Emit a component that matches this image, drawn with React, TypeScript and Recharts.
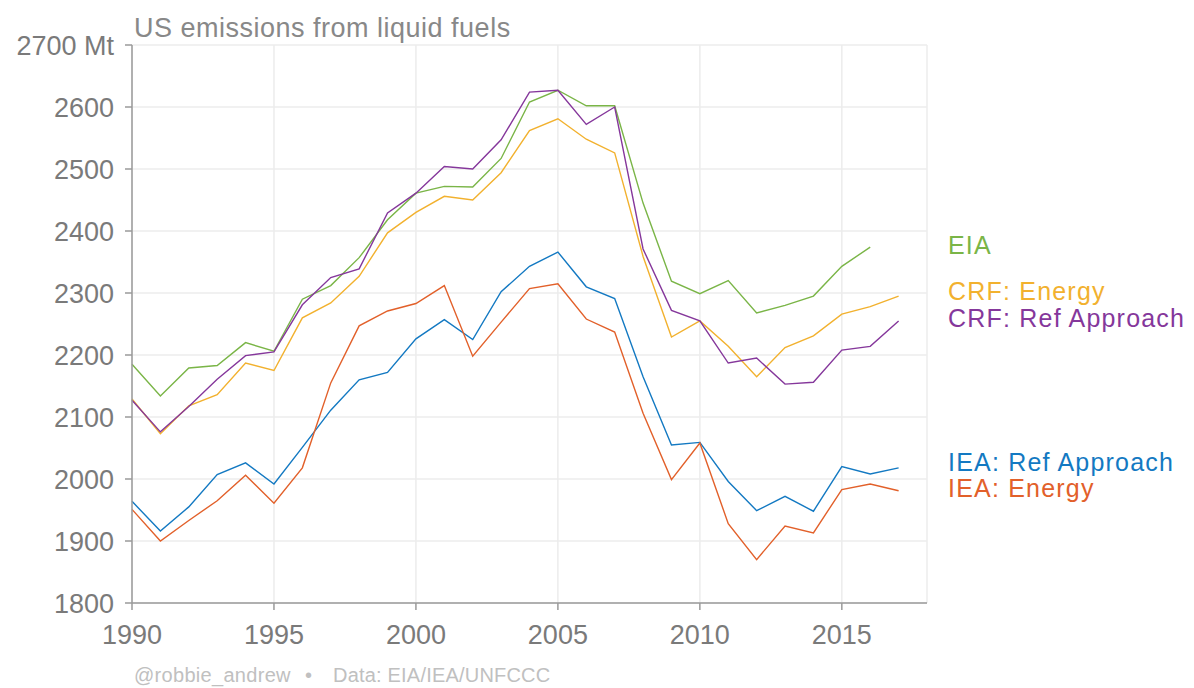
import React from 'react';
import { LineChart, Line, XAxis, YAxis, CartesianGrid } from 'recharts';

const years = [
  1990, 1991, 1992, 1993, 1994, 1995, 1996, 1997, 1998, 1999,
  2000, 2001, 2002, 2003, 2004, 2005, 2006, 2007, 2008, 2009,
  2010, 2011, 2012, 2013, 2014, 2015, 2016, 2017,
];

const eia = [
  2185, 2134, 2179, 2183, 2220, 2206, 2290, 2312, 2357, 2418,
  2461, 2472, 2471, 2517, 2608, 2627, 2602, 2602, 2445, 2319,
  2299, 2320, 2268, 2280, 2295, 2343, 2374, null,
];
const crfEnergy = [
  2129, 2073, 2118, 2136, 2187, 2175, 2260, 2284, 2327, 2397,
  2430, 2456, 2450, 2494, 2562, 2581, 2548, 2526, 2359, 2229,
  2255, 2214, 2165, 2212, 2231, 2266, 2278, 2295,
];
const crfRef = [
  2127, 2076, 2117, 2161, 2199, 2205, 2281, 2325, 2339, 2429,
  2461, 2504, 2500, 2547, 2624, 2627, 2572, 2600, 2371, 2272,
  2255, 2187, 2195, 2153, 2156, 2208, 2214, 2255,
];
const ieaRef = [
  1964, 1916, 1955, 2007, 2026, 1992, 2051, 2111, 2160, 2172,
  2226, 2257, 2225, 2302, 2343, 2366, 2310, 2291, 2165, 2055,
  2059, 1996, 1949, 1972, 1948, 2020, 2008, 2018,
];
const ieaEnergy = [
  1951, 1900, 1933, 1965, 2006, 1961, 2018, 2155, 2247, 2271,
  2283, 2312, 2198, 2253, 2307, 2315, 2258, 2237, 2106, 1999,
  2058, 1928, 1870, 1924, 1913, 1983, 1992, 1981,
];

const xTicks = [1990, 1995, 2000, 2005, 2010, 2015];
const yTicks = [1800, 1900, 2000, 2100, 2200, 2300, 2400, 2500, 2600, 2700];

const series = [
  { key: 'eia', label: 'EIA', color: '#7AB547', labelY: 254 },
  { key: 'crfEnergy', label: 'CRF: Energy', color: '#F2B12E', labelY: 300 },
  { key: 'crfRef', label: 'CRF: Ref Approach', color: '#85379B', labelY: 327 },
  { key: 'ieaRef', label: 'IEA: Ref Approach', color: '#1379C2', labelY: 471 },
  { key: 'ieaEnergy', label: 'IEA: Energy', color: '#E2602A', labelY: 497 },
];

const data = years.map((year, i) => ({
  year,
  eia: eia[i],
  crfEnergy: crfEnergy[i],
  crfRef: crfRef[i],
  ieaRef: ieaRef[i],
  ieaEnergy: ieaEnergy[i],
}));

const FONT = '"Liberation Sans", Arial, Helvetica, sans-serif';

export default function App() {
  return (
    <div style={{ position: 'absolute', left: 0, top: 0, width: 1194, height: 688, background: '#fff', fontFamily: FONT }}>
      <LineChart width={1194} height={688} data={data} margin={{ top: 45, right: 267, left: 0, bottom: 0 }}>
        <CartesianGrid stroke="#ececec" strokeWidth={1.5} />
        <XAxis
          dataKey="year"
          type="number"
          domain={[1990, 2018]}
          ticks={xTicks}
          height={85}
          stroke="#9a9a9a"
          strokeWidth={1.5}
          tickSize={7}
          tickMargin={15}
          tick={{ fill: '#7a7a7a', fontSize: 27, fontFamily: FONT }}
        />
        <YAxis
          type="number"
          domain={[1800, 2700]}
          ticks={yTicks}
          width={132}
          stroke="#9a9a9a"
          strokeWidth={1.5}
          tickSize={7}
          tickMargin={11}
          tick={{ fill: '#7a7a7a', fontSize: 27, fontFamily: FONT }}
          tickFormatter={(v) => (v === 2700 ? '2700 Mt' : String(v))}
        />
        {series.map((s) => (
          <Line
            key={s.key}
            type="linear"
            dataKey={s.key}
            stroke={s.color}
            strokeWidth={1.4}
            dot={false}
            connectNulls={false}
            isAnimationActive={false}
          />
        ))}
      </LineChart>
      <svg width={1194} height={688} style={{ position: 'absolute', left: 0, top: 0, pointerEvents: 'none' }}>
        <text x={134} y={37} fontSize={27} letterSpacing={0.5} fill="#888" fontFamily={FONT}>US emissions from liquid fuels</text>
        {series.map((s) => (
          <text key={s.key} x={948} y={s.labelY} fontSize={25} letterSpacing={1.2} fill={s.color} fontFamily={FONT}>{s.label}</text>
        ))}
        <text x={134} y={682} fontSize={20} letterSpacing={0.3} fill="#c0c0c0" fontFamily={FONT}>@robbie_andrew</text>
        <text x={305} y={682} fontSize={20} fill="#c0c0c0" fontFamily={FONT}>•</text>
        <text x={333} y={682} fontSize={20} letterSpacing={0.2} fill="#c0c0c0" fontFamily={FONT}>Data: EIA/IEA/UNFCCC</text>
      </svg>
    </div>
  );
}
